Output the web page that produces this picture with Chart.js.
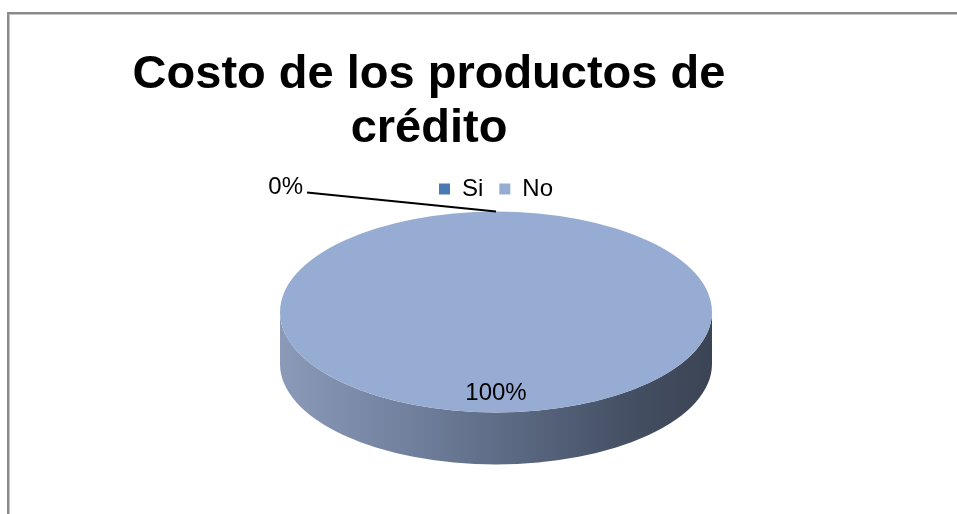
<!DOCTYPE html>
<html>
<head>
<meta charset="utf-8">
<script src="https://cdn.jsdelivr.net/npm/chart.js@4/dist/chart.umd.min.js"></script>
<style>
  html, body { margin:0; padding:0; background:#fff; width:957px; height:514px; overflow:hidden; }
  #frame { position:absolute; left:7px; top:12px; width:1000px; height:600px;
           border-top:2px solid #8a8a8a; border-left:2px solid #8a8a8a;
           box-shadow: inset 1px 1px 0 #c4c4c4; }
  #title { position:absolute; left:0; top:45px; width:858px; text-align:center;
           font-family:"Liberation Sans", Arial, sans-serif; font-weight:bold; font-size:47px;
           line-height:54px; color:#000; z-index:2; }
  #c { position:absolute; left:0; top:0; z-index:1; }
</style>
</head>
<body>
<div id="frame"></div>
<div id="title">Costo de los productos de<br>crédito</div>
<canvas id="c" width="957" height="514"></canvas>
<script>
// ---- data ----
const categories = ['Si', 'No'];
const seriesValues = [0, 100];
const sliceColors = ['#4a7ab5', '#97acd3'];

// ---- 3D look (style only) ----
const tiltRatio = 0.465;
const depthPx = 52;

const pie3d = {
  id: 'pie3d',
  beforeDatasetsDraw(chart) {
    const arc = chart.getDatasetMeta(0).data[0];
    const cx = arc.x, cy = arc.y, r = arc.outerRadius, ry = r * tiltRatio;
    const ctx = chart.ctx;
    ctx.save();
    const g = ctx.createLinearGradient(cx - r, 0, cx + r, 0);
    g.addColorStop(0, '#8b9ab8');
    g.addColorStop(0.3, '#71809d');
    g.addColorStop(0.55, '#5a6881');
    g.addColorStop(0.8, '#455064');
    g.addColorStop(1, '#3b4454');
    ctx.beginPath();
    ctx.moveTo(cx - r, cy);
    ctx.ellipse(cx, cy + depthPx, r, ry, 0, Math.PI, 0, true);
    ctx.lineTo(cx + r, cy);
    ctx.ellipse(cx, cy, r, ry, 0, 0, Math.PI, false);
    ctx.closePath();
    ctx.fillStyle = g;
    ctx.fill();
    ctx.restore();
    ctx.save();
    ctx.translate(cx, cy);
    ctx.scale(1, tiltRatio);
    ctx.translate(-cx, -cy);
  },
  afterDatasetsDraw(chart) {
    const ctx = chart.ctx;
    ctx.restore();
    const arcs = chart.getDatasetMeta(0).data;
    const total = seriesValues.reduce((a, b) => a + b, 0);
    ctx.save();
    ctx.fillStyle = '#000';
    ctx.strokeStyle = '#000';
    ctx.font = '24px "Liberation Sans", Arial, sans-serif';
    ctx.textBaseline = 'middle';
    arcs.forEach((a, i) => {
      const txt = Math.round(seriesValues[i] / total * 100) + '%';
      const cx = a.x, cy = a.y, r = a.outerRadius, ry = r * tiltRatio;
      if (a.endAngle - a.startAngle > 1e-6) {
        const mid = (a.startAngle + a.endAngle) / 2;
        ctx.textAlign = 'center';
        ctx.fillText(txt, cx + Math.cos(mid) * r * 0.81, cy + Math.sin(mid) * ry * 0.81);
      } else {
        const ax = cx + Math.cos(a.startAngle) * r;
        const ay = cy + Math.sin(a.startAngle) * ry;
        const lx = ax - 189, ly = ay - 19;
        ctx.lineWidth = 2;
        ctx.beginPath();
        ctx.moveTo(lx, ly);
        ctx.lineTo(ax, ay);
        ctx.stroke();
        ctx.textAlign = 'right';
        ctx.fillText(txt, lx - 4, ly - 5);
      }
    });
    ctx.restore();
  }
};

new Chart(document.getElementById('c'), {
  type: 'pie',
  data: {
    labels: categories,
    datasets: [{ data: seriesValues, backgroundColor: sliceColors, borderWidth: 0 }]
  },
  options: {
    responsive: false,
    animation: false,
    events: [],
    radius: 216,
    layout: { padding: { left: 35, right: 0, top: 161, bottom: 101 } },
    plugins: {
      tooltip: { enabled: false },
      title: { display: false },
      legend: {
        display: true,
        position: 'top',
        labels: {
          boxWidth: 11, boxHeight: 11, padding: 16, color: '#000',
          font: { family: '"Liberation Sans", Arial, sans-serif', size: 24 }
        }
      }
    }
  },
  plugins: [pie3d]
});
</script>
</body>
</html>
